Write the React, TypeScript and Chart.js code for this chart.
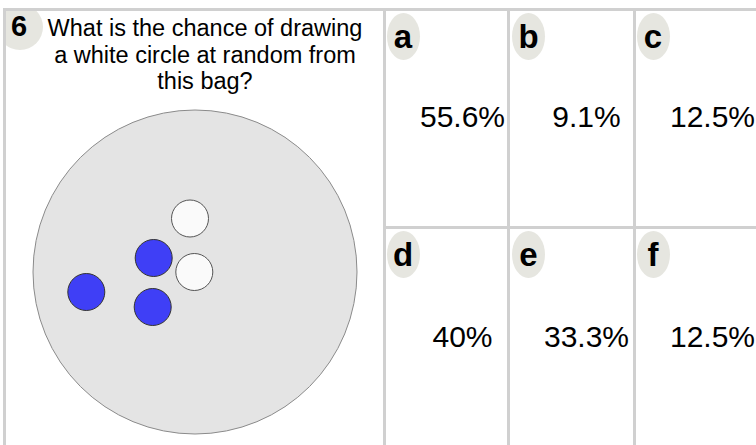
import React, { useEffect, useRef } from "react";
import { Chart, registerables } from "chart.js";

Chart.register(...registerables);

// ---- data ----
const questionNumber = "6";
const questionLines = [
  "What is the chance of drawing",
  "a white circle at random from",
  "this bag?",
];
const answerLabels = ["a", "b", "c", "d", "e", "f"];
const answerValues = ["55.6%", "9.1%", "12.5%", "40%", "33.3%", "12.5%"];

// bag and circles, in bag units (bag centre = 0,0; y up)
const bagCentre = [{ x: 0, y: 0 }];
const whiteCircles = [
  { x: -5, y: 53.5 },
  { x: -0.7, y: 0 },
];
const blueCircles = [
  { x: -41.3, y: 14 },
  { x: -108.7, y: -20 },
  { x: -42.3, y: -35 },
];

const FONT = "Arial, 'Liberation Sans', Helvetica, sans-serif";
const BORDER = "#d0d0d0";
const BADGE = "#e6e6e0";

function BagChart() {
  const ref = useRef<HTMLCanvasElement | null>(null);
  useEffect(() => {
    if (!ref.current) return;
    const chart = new Chart(ref.current, {
      type: "scatter",
      data: {
        datasets: [
          {
            label: "white",
            data: whiteCircles,
            pointRadius: 18.5,
            pointBackgroundColor: "#fafafa",
            pointBorderColor: "#555555",
            pointBorderWidth: 1,
            order: 1,
            clip: false,
          },
          {
            label: "blue",
            data: blueCircles,
            pointRadius: 18.5,
            pointBackgroundColor: "#3f3ff6",
            pointBorderColor: "#333333",
            pointBorderWidth: 1,
            order: 1,
            clip: false,
          },
          {
            label: "bag",
            data: bagCentre,
            pointRadius: 162,
            pointBackgroundColor: "#e4e4e4",
            pointBorderColor: "#8a8a8a",
            pointBorderWidth: 1,
            order: 2,
            clip: false,
          },
        ],
      },
      options: {
        animation: false,
        responsive: false,
        maintainAspectRatio: false,
        events: [],
        layout: { padding: 0, autoPadding: false },
        plugins: {
          legend: { display: false },
          tooltip: { enabled: false },
          title: { display: false },
        },
        scales: {
          x: { type: "linear", min: -189, max: 188, display: false },
          y: { type: "linear", min: -173, max: 172, display: false },
        },
      },
    });
    return () => chart.destroy();
  }, []);
  return (
    <canvas
      ref={ref}
      width={377}
      height={345}
      style={{ position: "absolute", left: 6, top: 100, width: 377, height: 345 }}
    />
  );
}

const dividerLefts = [383, 507, 633];
const percentBaselines = [127, 347];

export default function App() {
  const abs = (s: React.CSSProperties): React.CSSProperties => ({ position: "absolute", ...s });
  return (
    <div
      style={{
        position: "fixed",
        left: 0,
        top: 0,
        width: 756,
        height: 445,
        overflow: "hidden",
        background: "#ffffff",
        fontFamily: FONT,
        color: "#000",
      }}
    >
      {/* left panel */}
      <div style={abs({ left: 6, top: 11, width: 377, height: 434, overflow: "hidden" })}>
        <div
          style={abs({ left: -9, top: -7, width: 46, height: 46, borderRadius: "50%", background: BADGE })}
        />
        <div
          style={abs({
            left: 5,
            top: 0.5,
            fontSize: 29,
            lineHeight: "29px",
            fontWeight: "bold",
          })}
        >
          {questionNumber}
        </div>
      </div>
      <div
        style={abs({
          left: 45,
          top: 15,
          width: 320,
          fontSize: 23.5,
          lineHeight: "26.5px",
          textAlign: "center",
          whiteSpace: "nowrap",
        })}
      >
        {questionLines.map((l, i) => (
          <div key={i}>{l}</div>
        ))}
      </div>
      <BagChart />

      {/* answer cells */}
      {answerLabels.map((lab, i) => {
        const col = i % 3;
        const row = Math.floor(i / 3);
        const dl = dividerLefts[col];
        const badgeLeft = dl + (col === 1 ? 5 : 3.5);
        const badgeTop = row === 0 ? 13 : 231;
        const baseline = percentBaselines[row];
        return (
          <React.Fragment key={lab}>
            <div
              style={abs({
                left: badgeLeft,
                top: badgeTop,
                width: 33,
                height: 47,
                borderRadius: "50%",
                background: BADGE,
                textAlign: "center",
                fontSize: 33,
                lineHeight: "47px",
                fontWeight: "bold",
              })}
            >
              {lab}
            </div>
            <div
              style={abs({
                left: dl + 79.5 - 70,
                top: baseline - 25.4,
                width: 140,
                textAlign: "center",
                fontSize: 30,
                lineHeight: "30px",
                whiteSpace: "nowrap",
              })}
            >
              {answerValues[i]}
            </div>
          </React.Fragment>
        );
      })}

      {/* borders */}
      <div style={abs({ left: 3, top: 8, width: 760, height: 3, background: BORDER })} />
      <div style={abs({ left: 3, top: 8, width: 3, height: 440, background: BORDER })} />
      {dividerLefts.map((x) => (
        <div key={x} style={abs({ left: x, top: 8, width: 3, height: 440, background: BORDER })} />
      ))}
      <div style={abs({ left: 383, top: 226, width: 380, height: 3, background: BORDER })} />
    </div>
  );
}
